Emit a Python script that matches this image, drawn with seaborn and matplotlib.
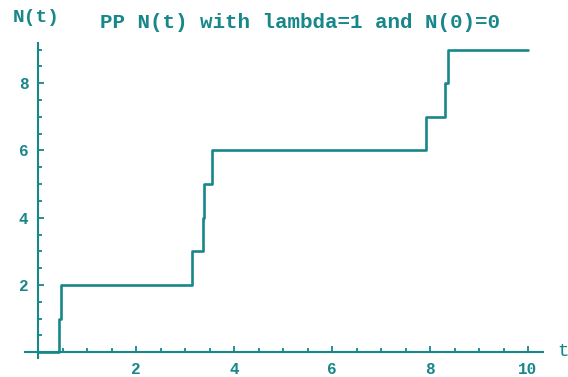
import numpy as np
import pandas as pd
import matplotlib
matplotlib.use("Agg")
import matplotlib.pyplot as plt
from matplotlib.ticker import MultipleLocator
import seaborn as sns

# === data: jump times of the Poisson process ===
jump_times = [0.43, 0.47, 3.15, 3.37, 3.38, 3.56, 7.92, 8.30, 8.36]
t_end = 10.0
counts = list(range(len(jump_times) + 1))

title_text = "PP N(t) with lambda=1 and N(0)=0"
x_ticks = [2, 4, 6, 8, 10]
y_ticks = [2, 4, 6, 8]

teal = "#17878a"

df = pd.DataFrame({
    "t": [0.0] + jump_times + [t_end],
    "N": counts + [counts[-1]],
})

sns.set_style("white")
plt.rcParams["font.family"] = ["Liberation Mono", "DejaVu Sans Mono"]

fig = plt.figure(figsize=(5.68, 3.77), dpi=100)
ax = fig.add_axes([0.0437, 0.05, 0.9118, 0.836])

sns.lineplot(data=df, x="t", y="N", drawstyle="steps-post", color=teal,
             linewidth=1.9, estimator=None, sort=False, ax=ax)

ax.set_xlim(-0.27, 10.3)
ax.set_ylim(-0.18, 9.2)

# Mathematica-style axes crossing at the origin
for side in ["top", "right"]:
    ax.spines[side].set_visible(False)
ax.spines["left"].set_position(("data", 0))
ax.spines["bottom"].set_position(("data", 0))
for side in ["left", "bottom"]:
    ax.spines[side].set_color(teal)
    ax.spines[side].set_linewidth(1.5)
    ax.spines[side].set_zorder(1)

ax.set_xticks(x_ticks)
ax.set_yticks(y_ticks)
ax.xaxis.set_minor_locator(MultipleLocator(0.5))
ax.yaxis.set_minor_locator(MultipleLocator(0.5))
ax.tick_params(which="both", direction="in", colors=teal, width=1.3,
               labelsize=11.5, pad=7, bottom=True, left=True)
ax.tick_params(which="major", length=4.5)
ax.tick_params(which="minor", length=3)
for lbl in ax.get_xticklabels() + ax.get_yticklabels():
    lbl.set_fontweight("bold")
ax.set_xlabel("")
ax.set_ylabel("")

fig.text(300 / 568, 1 - 23 / 377, title_text, ha="center", va="center",
         fontsize=15, fontweight="bold", color=teal)
fig.text(36 / 568, 1 - 18 / 377, "N(t)", ha="center", va="center",
         fontsize=14, fontweight="bold", color=teal)
fig.text(563 / 568, 1 - 351 / 377, "t", ha="center", va="center",
         fontsize=14, color=teal)

fig.savefig("out.png", dpi=100, facecolor="white")
